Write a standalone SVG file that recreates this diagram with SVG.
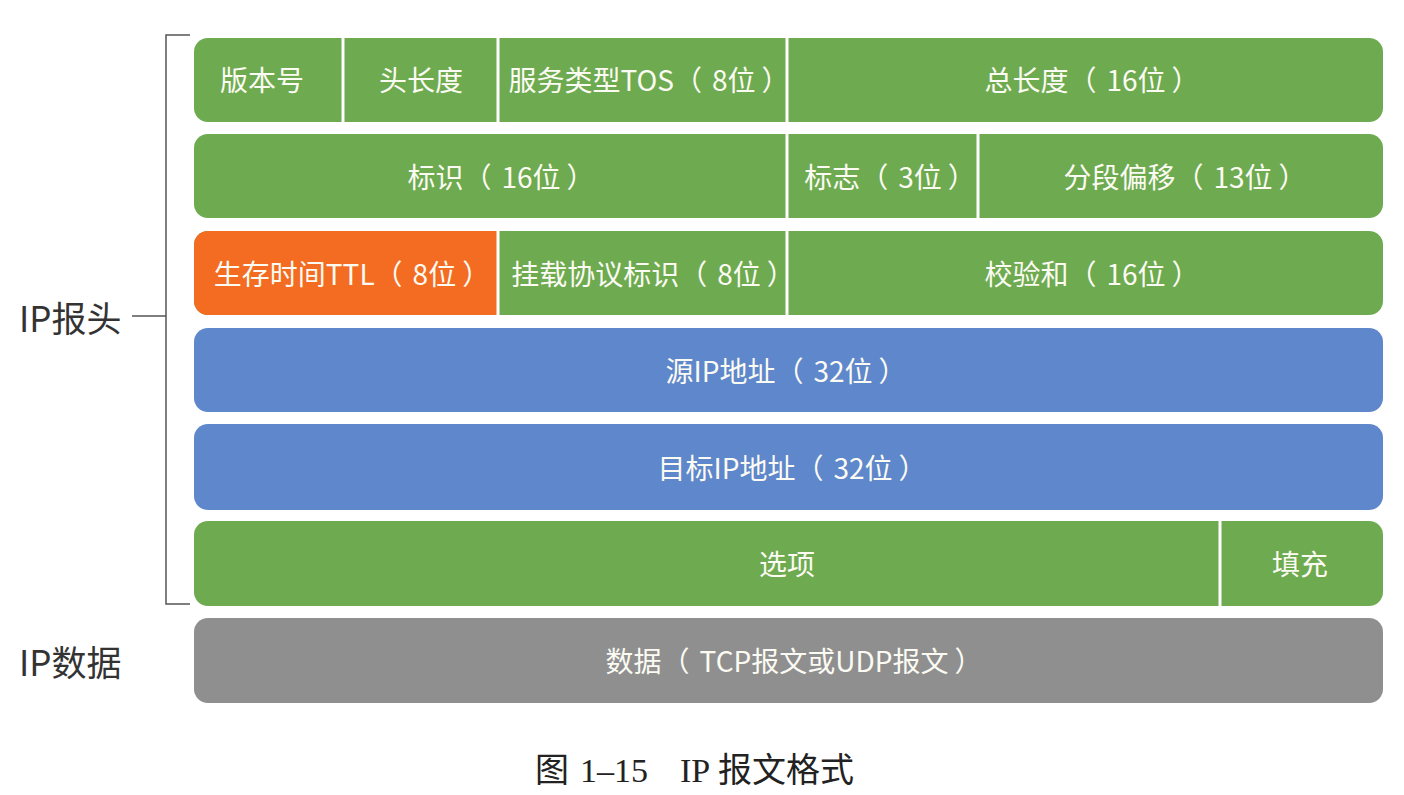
<svg xmlns="http://www.w3.org/2000/svg" width="1404" height="795" viewBox="0 0 1404 795">
<style>
.g{fill:#6eaa50}.o{fill:#f36c22}.b{fill:#5f87cb}.k{fill:#8f8f8f}
.t{font-family:"Noto Sans CJK SC","Liberation Sans",sans-serif;font-size:28px;fill:#fbfbf3;text-anchor:middle;dominant-baseline:central}
.d{stroke:#ffffff;stroke-width:3}
.l{font-family:"Noto Sans CJK SC","Liberation Sans",sans-serif;font-size:35px;fill:#333333;dominant-baseline:central}
.br{stroke:#555555;stroke-width:1.5;fill:none}
.cap{font-family:"Liberation Serif","Noto Sans CJK SC",serif;font-size:34px;fill:#222222;dominant-baseline:central}
</style>
<rect width="1404" height="795" fill="#ffffff"/>
<g id="row1">
<rect class="g" x="194" y="38" width="1189" height="84" rx="14"/>
<line class="d" x1="343" y1="38" x2="343" y2="122"/>
<line class="d" x1="498" y1="38" x2="498" y2="122"/>
<line class="d" x1="787" y1="38" x2="787" y2="122"/>
<text class="t" x="262" y="79">版本号</text>
<text class="t" x="421" y="79">头长度</text>
<text class="t" x="649" y="79">服务类型TOS（<tspan dx="10">8位</tspan><tspan dx="6">）</tspan></text>
<text class="t" x="1092" y="79">总长度（<tspan dx="10">16位</tspan><tspan dx="6">）</tspan></text>
</g>
<g id="row2">
<rect class="g" x="194" y="134" width="1189" height="84" rx="14"/>
<line class="d" x1="787" y1="134" x2="787" y2="218"/>
<line class="d" x1="978" y1="134" x2="978" y2="218"/>
<text class="t" x="501" y="176">标识（<tspan dx="10">16位</tspan><tspan dx="6">）</tspan></text>
<text class="t" x="890" y="176">标志（<tspan dx="10">3位</tspan><tspan dx="6">）</tspan></text>
<text class="t" x="1185" y="176">分段偏移（<tspan dx="10">13位</tspan><tspan dx="6">）</tspan></text>
</g>
<g id="row3">
<rect class="g" x="194" y="231" width="1189" height="84" rx="14"/>
<path class="o" d="M208 231H498V315H208A14 14 0 0 1 194 301V245A14 14 0 0 1 208 231Z"/>
<line class="d" x1="498" y1="231" x2="498" y2="315"/>
<line class="d" x1="787" y1="231" x2="787" y2="315"/>
<text class="t" x="352" y="273">生存时间TTL（<tspan dx="10">8位</tspan><tspan dx="6">）</tspan></text>
<text class="t" x="653" y="273">挂载协议标识（<tspan dx="10">8位</tspan><tspan dx="6">）</tspan></text>
<text class="t" x="1092" y="273">校验和（<tspan dx="10">16位</tspan><tspan dx="6">）</tspan></text>
</g>
<g id="row4">
<rect class="b" x="194" y="328" width="1189" height="84" rx="14"/>
<text class="t" x="786" y="370">源IP地址（<tspan dx="10">32位</tspan><tspan dx="6">）</tspan></text>
</g>
<g id="row5">
<rect class="b" x="194" y="424" width="1189" height="86" rx="14"/>
<text class="t" x="792" y="467">目标IP地址（<tspan dx="10">32位</tspan><tspan dx="6">）</tspan></text>
</g>
<g id="row6">
<rect class="g" x="194" y="521" width="1189" height="85" rx="14"/>
<line class="d" x1="1220" y1="521" x2="1220" y2="606"/>
<text class="t" x="787" y="563">选项</text>
<text class="t" x="1300" y="563">填充</text>
</g>
<g id="row7">
<rect class="k" x="194" y="618" width="1189" height="85" rx="14"/>
<text class="t" x="794" y="660">数据（<tspan dx="10">TCP报文或UDP报文</tspan><tspan dx="6">）</tspan></text>
</g>
<g id="labels">
<text class="l" x="19" y="316">IP报头</text>
<text class="l" x="19" y="660">IP数据</text>
</g>
<g id="connectors">
<path class="br" d="M190 35H166V604H190"/>
<line class="br" x1="132" y1="316" x2="166" y2="316"/>
</g>
<g id="caption">
<text class="cap" x="535" y="770">图</text>
<text class="cap" x="580" y="770">1–15</text>
<text class="cap" x="680" y="770">IP</text>
<text class="cap" x="718" y="770">报文格式</text>
</g>
</svg>
